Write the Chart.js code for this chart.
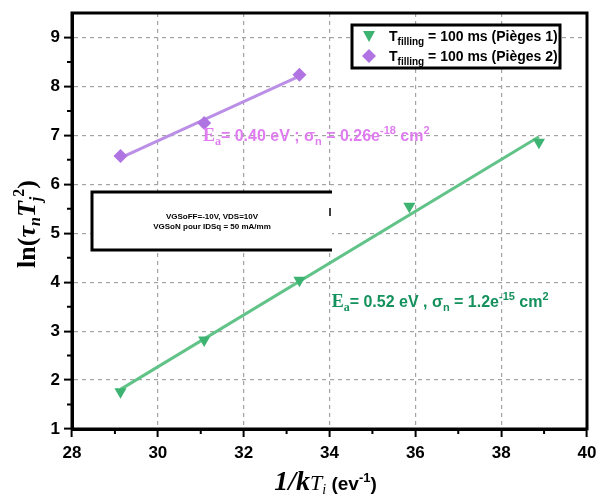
<!DOCTYPE html>
<html>
<head>
<meta charset="utf-8">
<script src="https://cdn.jsdelivr.net/npm/chart.js@4.4.1/dist/chart.umd.min.js"></script>
<style>
  html, body { margin: 0; padding: 0; background: #fff; }
</style>
</head>
<body>
<canvas id="chart" width="598" height="499"></canvas>
<script>
// --- data ---
const trap1X = [29.13, 31.08, 33.30, 35.86, 38.88];
const trap1Y = [1.76, 2.82, 4.04, 5.55, 6.86];
const trap2X = [29.13, 31.08, 33.30];
const trap2Y = [6.58, 7.25, 8.24];
// linear (Arrhenius) fits
const fit1X = [29.13, 38.88];
const fit1Y = [1.81, 6.97];
const fit2X = [29.13, 33.30];
const fit2Y = [6.54, 8.21];

const xTicks = [28, 30, 32, 34, 36, 38, 40];
const yTicks = [1, 2, 3, 4, 5, 6, 7, 8, 9];
const xMinor = [29, 31, 33, 35, 37, 39];
const yMinor = [1.5, 2.5, 3.5, 4.5, 5.5, 6.5, 7.5, 8.5];
const seriesNames = ['Pièges 1', 'Pièges 2'];

const GREEN = '#3cb371', GREEN_LINE = '#62c389', GREEN_TXT = '#14915c';
const PURPLE = '#b074e2', PURPLE_LINE = '#bb8fe6', PURPLE_TXT = '#df7cf0';
const SANS = '"Liberation Sans", Arial, sans-serif';
const SERIF = '"Liberation Serif", "Times New Roman", serif';

const pts = (xs, ys) => xs.map((x, i) => ({ x, y: ys[i] }));

// draw a run of text pieces: [text, font, dy]
function rich(ctx, x, y, parts, align) {
  let w = 0;
  parts.forEach(p => { ctx.font = p[1]; w += ctx.measureText(p[0]).width; });
  let cx = align === 'center' ? x - w / 2 : x;
  parts.forEach(p => {
    ctx.font = p[1];
    ctx.fillText(p[0], cx, y + (p[2] || 0));
    cx += ctx.measureText(p[0]).width;
  });
}

const decorations = {
  id: 'decorations',
  afterDraw(chart) {
    const { ctx, chartArea: a, scales: { x, y } } = chart;
    ctx.save();
    ctx.textBaseline = 'alphabetic';
    ctx.fillStyle = '#000';

    // minor ticks
    ctx.strokeStyle = '#000';
    ctx.lineWidth = 2;
    ctx.beginPath();
    xMinor.forEach(v => { const px = x.getPixelForValue(v); ctx.moveTo(px, a.bottom); ctx.lineTo(px, a.bottom + 5); });
    yMinor.forEach(v => { const py = y.getPixelForValue(v); ctx.moveTo(a.left, py); ctx.lineTo(a.left - 5, py); });
    ctx.stroke();

    // frame
    ctx.lineWidth = 3;
    ctx.strokeRect(a.left, a.top, a.right - a.left, a.bottom - a.top);

    // axis titles
    ctx.textAlign = 'left';
    rich(ctx, (a.left + a.right) / 2 - 4, a.bottom + 61, [
      ['1/k', 'italic bold 28px ' + SERIF],
      ['T', 'italic 22px ' + SERIF],
      ['i', 'italic 14px ' + SERIF, 4],
      [' (ev', 'bold 19px ' + SANS],
      ['-1', 'bold 13px ' + SANS, -8],
      [')', 'bold 19px ' + SANS]
    ], 'center');

    ctx.save();
    ctx.translate(35, (a.top + a.bottom) / 2 + 3);
    ctx.rotate(-Math.PI / 2);
    rich(ctx, 0, 0, [
      ['ln(', 'bold 26px ' + SERIF],
      ['τ', 'italic bold 26px ' + SERIF],
      ['n', 'italic bold 16px ' + SERIF, 5],
      ['T', 'italic bold 26px ' + SERIF],
      ['j', 'italic bold 16px ' + SERIF, 6],
      ['2', 'bold 16px ' + SERIF, -11],
      [')', 'bold 26px ' + SERIF]
    ], 'center');
    ctx.restore();

    // annotations, anchored in data space
    ctx.fillStyle = GREEN_TXT;
    const B = 'bold 16px ' + SANS, Bs = 'bold 11px ' + SANS;
    rich(ctx, x.getPixelForValue(34.05), y.getPixelForValue(3.5), [
      ['E', 'bold 18px ' + SERIF], ['a', 'bold 12px ' + SERIF, 4],
      ['= 0.52 eV , σ', B], ['n', Bs, 4], [' = 1.2e', B], ['-15', Bs, -7],
      [' cm', B], ['2', Bs, -7]
    ]);
    ctx.fillStyle = PURPLE_TXT;
    rich(ctx, x.getPixelForValue(31.05), y.getPixelForValue(6.88), [
      ['E', 'bold 18px ' + SERIF], ['a', 'bold 12px ' + SERIF, 4],
      ['= 0.40 eV ; σ', B], ['n', Bs, 4], [' = 0.26e', B], ['-18', Bs, -7],
      [' cm', B], ['2', Bs, -7]
    ]);

    // measurement conditions box
    const bx = a.left + 20, by = a.top + 179, bw = 240, bh = 58;
    ctx.fillStyle = '#fff';
    ctx.fillRect(bx, by, bw, bh);
    ctx.strokeStyle = '#000';
    ctx.lineWidth = 3;
    ctx.beginPath();
    ctx.moveTo(bx + bw, by); ctx.lineTo(bx, by); ctx.lineTo(bx, by + bh); ctx.lineTo(bx + bw, by + bh);
    ctx.stroke();
    ctx.lineWidth = 1.5;
    ctx.beginPath();
    ctx.moveTo(bx + bw - 2, by + 16); ctx.lineTo(bx + bw - 2, by + 24);
    ctx.stroke();
    ctx.fillStyle = '#000';
    ctx.textAlign = 'center';
    ctx.font = 'bold 8px ' + SANS;
    ctx.fillText('VGSoFF=-10V, VDS=10V', bx + 120, by + 27);
    ctx.fillText('VGSoN pour IDSq = 50 mA/mm', bx + 120, by + 37);

    // legend
    const lx = a.left + 280, ly = a.top + 12, lw = 208, lh = 43;
    ctx.fillStyle = '#fff';
    ctx.fillRect(lx, ly, lw, lh);
    ctx.lineWidth = 3;
    ctx.strokeRect(lx, ly, lw, lh);
    ctx.textAlign = 'left';
    chart.data.datasets.slice(0, 2).forEach((ds, i) => {
      const cy = ly + 11 + i * 20;
      const mx = lx + 17;
      ctx.fillStyle = ds.pointBackgroundColor;
      ctx.beginPath();
      if (i === 0) {
        ctx.moveTo(mx - 6, cy - 5); ctx.lineTo(mx + 6, cy - 5); ctx.lineTo(mx, cy + 6);
      } else {
        ctx.moveTo(mx, cy - 7); ctx.lineTo(mx + 7, cy); ctx.lineTo(mx, cy + 7); ctx.lineTo(mx - 7, cy);
      }
      ctx.closePath();
      ctx.fill();
      ctx.fillStyle = '#000';
      rich(ctx, lx + 37, cy + 5, [
        ['T', 'bold 14px ' + SANS], ['filling', 'bold 10px ' + SANS, 4],
        [' = 100 ms (' + seriesNames[i] + ')', 'bold 14px ' + SANS]
      ]);
    });
    ctx.restore();
  }
};

new Chart(document.getElementById('chart'), {
  type: 'scatter',
  data: {
    datasets: [
      { label: seriesNames[0], data: pts(trap1X, trap1Y), pointStyle: 'triangle', rotation: 180,
        pointRadius: 7, pointBackgroundColor: GREEN, pointBorderWidth: 0, order: 0 },
      { label: seriesNames[1], data: pts(trap2X, trap2Y), pointStyle: 'rectRot',
        pointRadius: 7, pointBackgroundColor: PURPLE, pointBorderWidth: 0, order: 0 },
      { label: 'fit 1', data: pts(fit1X, fit1Y), showLine: true, pointRadius: 0,
        borderColor: GREEN_LINE, borderWidth: 3, order: 1 },
      { label: 'fit 2', data: pts(fit2X, fit2Y), showLine: true, pointRadius: 0,
        borderColor: PURPLE_LINE, borderWidth: 3, order: 1 }
    ]
  },
  options: {
    responsive: false,
    animation: false,
    layout: { padding: { top: 13, right: 11, left: 0, bottom: 0 } },
    plugins: { legend: { display: false }, tooltip: { enabled: false } },
    scales: {
      x: {
        type: 'linear', min: 28, max: 40,
        afterBuildTicks: s => { s.ticks = xTicks.map(v => ({ value: v })); },
        afterFit: s => { s.height = 70; s.paddingLeft = 0; s.paddingRight = 0; },
        ticks: { color: '#000', padding: 6, font: { family: SANS, size: 17, weight: 'bold' } },
        grid: { color: '#a3a3a3', lineWidth: 1.2, tickColor: '#000', tickWidth: 2, tickLength: 8 },
        border: { color: '#000', width: 3, dash: [4, 4] }
      },
      y: {
        type: 'linear', min: 1, max: 9.5,
        afterBuildTicks: s => { s.ticks = yTicks.map(v => ({ value: v })); },
        afterFit: s => { s.width = 72; s.paddingTop = 0; s.paddingBottom = 0; },
        ticks: { color: '#000', padding: 4, font: { family: SANS, size: 17, weight: 'bold' } },
        grid: { color: '#a3a3a3', lineWidth: 1.2, tickColor: '#000', tickWidth: 2, tickLength: 8 },
        border: { color: '#000', width: 3, dash: [4, 4] }
      }
    }
  },
  plugins: [decorations]
});
</script>
</body>
</html>
